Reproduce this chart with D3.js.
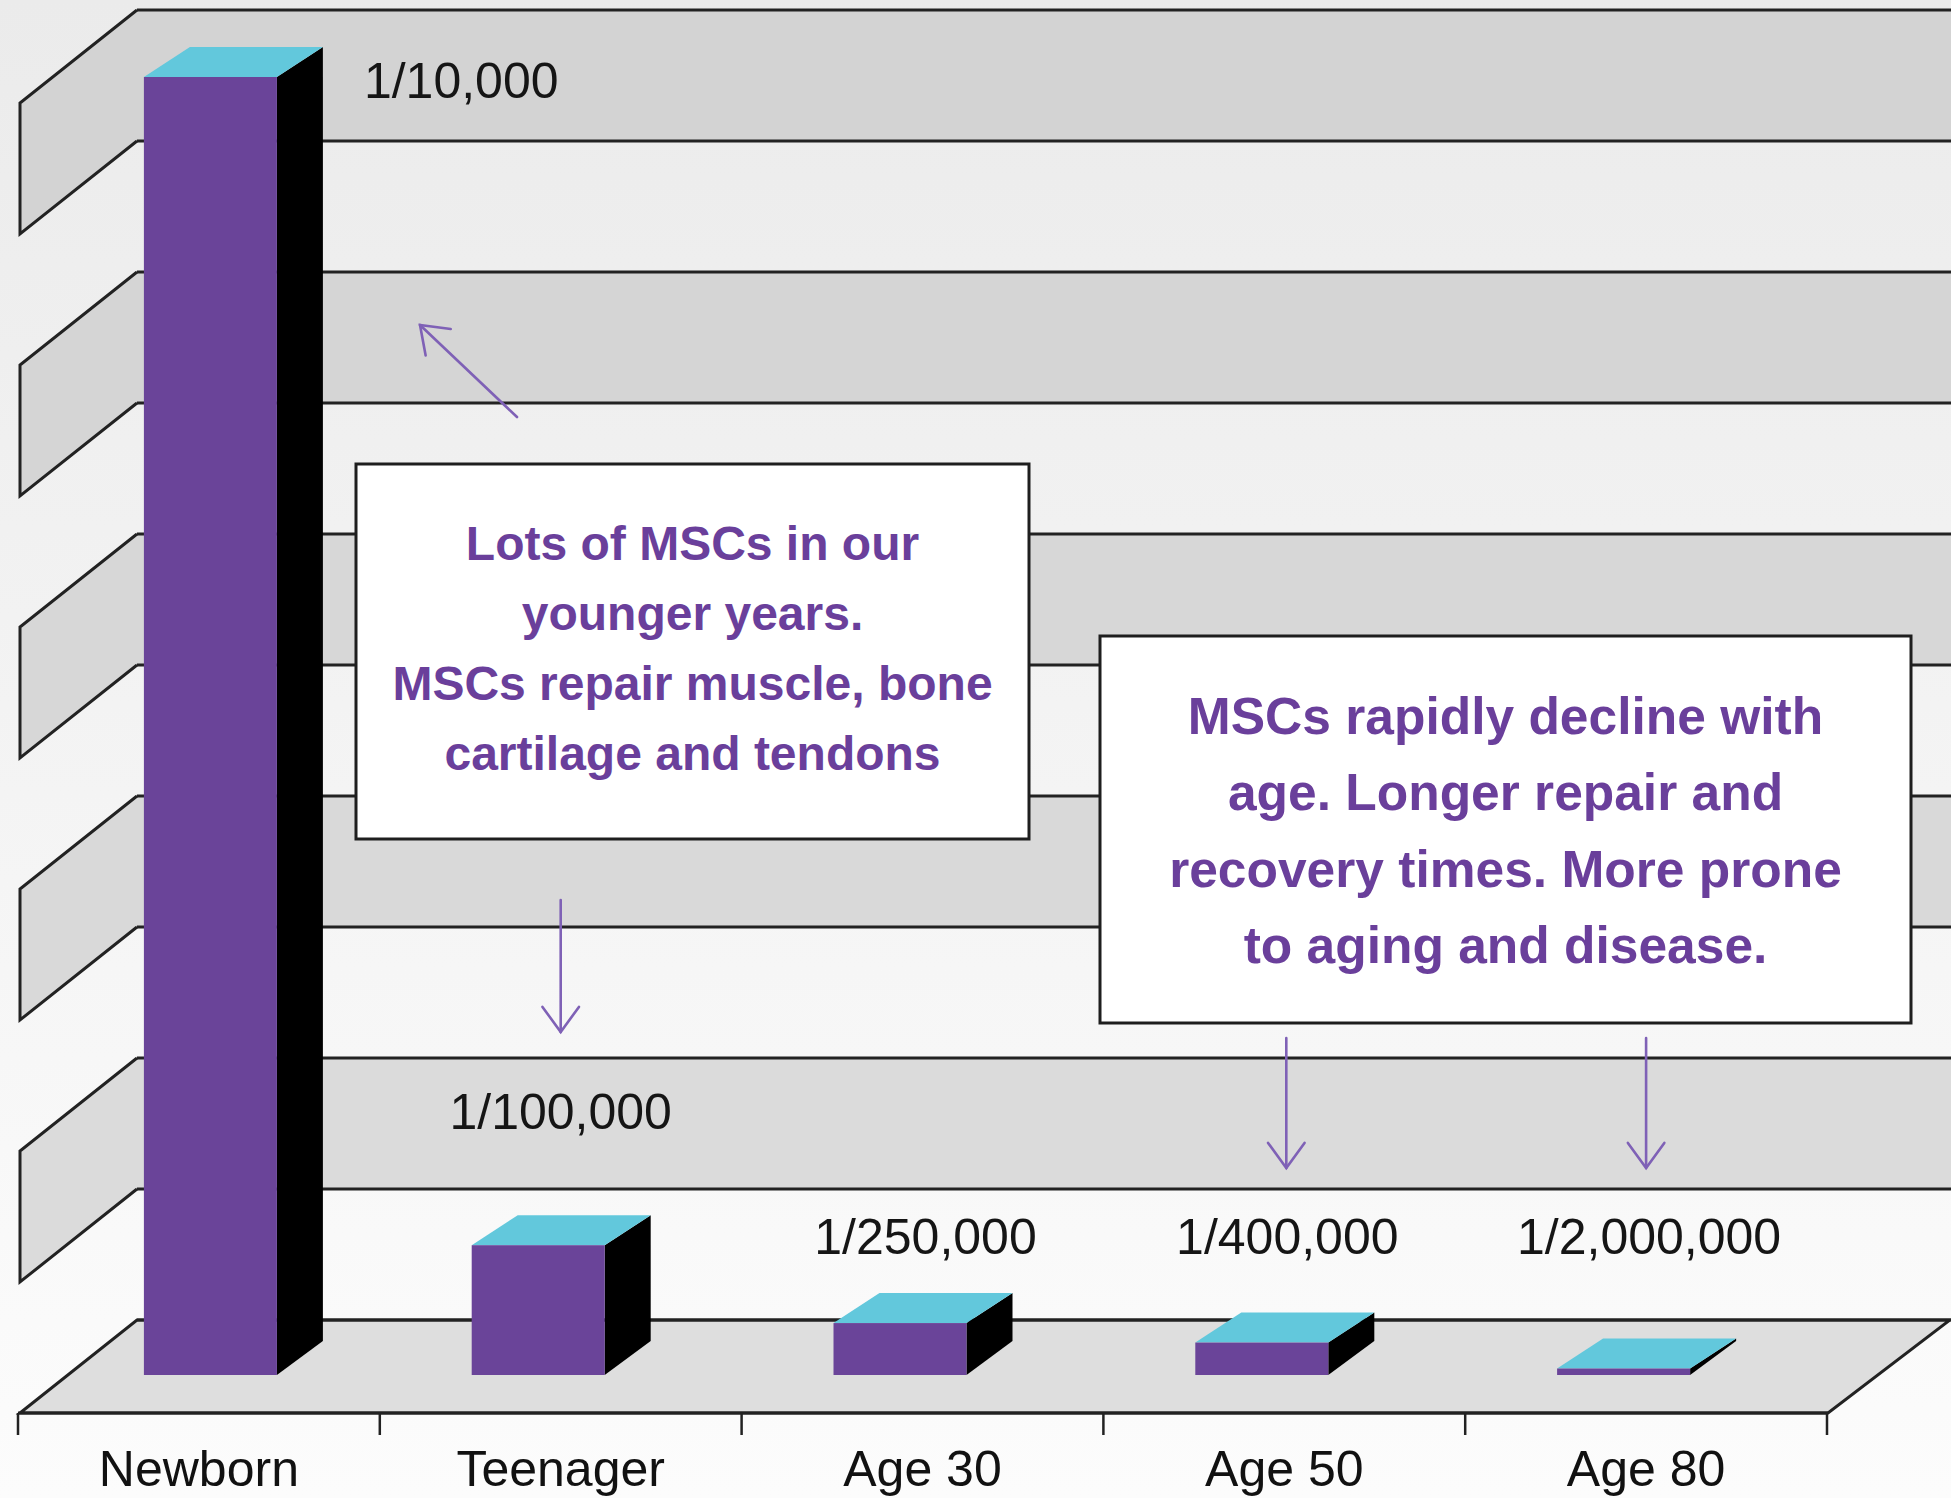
<!DOCTYPE html>
<html>
<head>
<meta charset="utf-8">
<script src="https://cdn.jsdelivr.net/npm/d3@7"></script>
<style>
  html, body { margin: 0; padding: 0; background: #f3f3f3; }
  svg { display: block; }
  text { font-family: "Liberation Sans", Arial, Helvetica, sans-serif; }
</style>
</head>
<body>
<script>
// ---------------- data ----------------
const categories = ["Newborn", "Teenager", "Age 30", "Age 50", "Age 80"];
const frequencies = [1 / 10000, 1 / 100000, 1 / 250000, 1 / 400000, 1 / 2000000];
const valueLabels = ["1/10,000", "1/100,000", "1/250,000", "1/400,000", "1/2,000,000"];
const gridMax = 1 / 10000;
const gridCount = 10;
const note1Lines = ["Lots of MSCs in our", "younger years.", "MSCs repair muscle, bone", "cartilage and tendons"];
const note2Lines = ["MSCs rapidly decline with", "age. Longer repair and", "recovery times. More prone", "to aging and disease."];

// ---------------- layout ----------------
const W = 1951, H = 1498;
const floorFrontY = 1413, floorBackY = 1320;
const wallFrontX = 20, wallBackX = 137;
const depthDY = floorBackY - floorFrontY; // -93
const barBaseY = 1375, barW = 133, barDX = 46, barDY = -30;
const lineCol = "#222";
const lw = 3;

const svg = d3.select("body").append("svg").attr("width", W).attr("height", H);
const defs = svg.append("defs");
const bg = defs.append("linearGradient").attr("id", "bg").attr("x1", 0).attr("y1", 0).attr("x2", 0).attr("y2", 1);
bg.append("stop").attr("offset", "0%").attr("stop-color", "#ebebeb");
bg.append("stop").attr("offset", "100%").attr("stop-color", "#fcfcfc");
svg.append("rect").attr("width", W).attr("height", H).attr("fill", "url(#bg)");

// scales
const wallY = d3.scaleLinear().domain([0, gridMax]).range([floorBackY, 10]);
const barH = d3.scaleLinear().domain([0, gridMax]).range([0, 1298]);
const x = d3.scaleBand().domain(categories).range([18, 1827]).padding(0);
const bandColor = d3.scaleLinear().domain([0, gridMax]).range(["#dcdcdc", "#d3d3d3"]);

// ---------------- back wall & side wall bands ----------------
const gridVals = wallY.ticks(gridCount);
const grayBands = gridVals.slice(0, -1).map((v, i) => [v, gridVals[i + 1]]).filter((d, i) => i % 2 === 1);

const wall = svg.append("g");
grayBands.forEach(([lo, hi]) => {
  const t = wallY(hi), b = wallY(lo);
  const fill = bandColor((lo + hi) / 2);
  wall.append("rect").attr("x", wallBackX).attr("y", t).attr("width", W - wallBackX).attr("height", b - t).attr("fill", fill);
  wall.append("line").attr("x1", wallBackX).attr("x2", W).attr("y1", t).attr("y2", t).attr("stroke", lineCol).attr("stroke-width", lw);
  wall.append("line").attr("x1", wallBackX).attr("x2", W).attr("y1", b).attr("y2", b).attr("stroke", lineCol).attr("stroke-width", lw);
  const pts = [[wallBackX, t], [wallFrontX, t - depthDY], [wallFrontX, b - depthDY], [wallBackX, b]];
  wall.append("polygon").attr("points", pts.map(p => p.join(",")).join(" ")).attr("fill", fill);
  wall.append("path").attr("d", d3.line()(pts)).attr("fill", "none").attr("stroke", lineCol).attr("stroke-width", lw).attr("stroke-linejoin", "miter");
});

// ---------------- floor ----------------
const floorRight = x.range()[1] + 1;
const floorPts = [[wallFrontX, floorFrontY], [wallBackX, floorBackY], [W - 1, floorBackY], [floorRight, floorFrontY]];
svg.append("polygon").attr("points", floorPts.map(p => p.join(",")).join(" "))
  .attr("fill", "#dedede").attr("stroke", lineCol).attr("stroke-width", lw).attr("stroke-linejoin", "miter");
svg.append("line").attr("x1", wallBackX).attr("x2", W).attr("y1", floorBackY).attr("y2", floorBackY).attr("stroke", lineCol).attr("stroke-width", lw);

// category axis: ticks at band edges, labels at band centres
const axisG = svg.append("g");
const edges = categories.map(c => x(c)).concat([x.range()[1]]);
axisG.append("line").attr("x1", x.range()[0]).attr("x2", floorRight).attr("y1", floorFrontY).attr("y2", floorFrontY)
  .attr("stroke", lineCol).attr("stroke-width", lw);
axisG.selectAll("line.tick").data(edges).join("line").attr("class", "tick")
  .attr("x1", d => d).attr("x2", d => d).attr("y1", floorFrontY).attr("y2", floorFrontY + 22)
  .attr("stroke", lineCol).attr("stroke-width", 2.5);
axisG.selectAll("text").data(categories).join("text")
  .attr("x", d => x(d) + x.bandwidth() / 2).attr("y", 1486)
  .attr("text-anchor", "middle").attr("font-size", 50).attr("fill", "#111")
  .text(d => d);

// ---------------- bars ----------------
const bars = categories.map((c, i) => {
  const cx = x(c) + x.bandwidth() / 2;
  const x0 = cx - 89 + (i === 0 ? 34 : 0);
  const h = barH(frequencies[i]);
  return { c, i, x0, h, top: barBaseY - h };
});
const barG = svg.append("g");
bars.forEach(b => {
  const g = barG.append("g");
  const x0 = b.x0, x1 = b.x0 + barW, yT = b.top, yB = barBaseY;
  g.append("polygon").attr("fill", "#000").attr("points",
    [[x1, yT], [x1 + barDX, yT + barDY], [x1 + barDX, yB + barDY - 4], [x1, yB]].map(p => p.join(",")).join(" "));
  g.append("polygon").attr("fill", "#62c8dc").attr("points",
    [[x0, yT], [x0 + barDX, yT + barDY], [x1 + barDX, yT + barDY], [x1, yT]].map(p => p.join(",")).join(" "));
  g.append("rect").attr("x", x0).attr("y", yT).attr("width", barW).attr("height", b.h).attr("fill", "#6a4499");
});

// ---------------- value labels ----------------
const valG = svg.append("g");
bars.forEach(b => {
  let tx, ty, anchor;
  const cx = x(b.c) + x.bandwidth() / 2;
  if (b.i === 0) { tx = b.x0 + barW + barDX + 41; ty = b.top + 21; anchor = "start"; }
  else if (b.i === 1) { tx = cx; ty = b.top - 116; anchor = "middle"; }
  else { tx = cx + 3; ty = 1254; anchor = "middle"; }
  valG.append("text").attr("x", tx).attr("y", ty).attr("text-anchor", anchor)
    .attr("font-size", 50).attr("fill", "#151515").text(valueLabels[b.i]);
});

// ---------------- annotation boxes ----------------
function noteBox(x0, y0, w, h, lines, fs, firstBase, step) {
  const g = svg.append("g");
  g.append("rect").attr("x", x0).attr("y", y0).attr("width", w).attr("height", h)
    .attr("fill", "#fff").attr("stroke", "#1e1e1e").attr("stroke-width", 3);
  g.selectAll("text").data(lines).join("text")
    .attr("x", x0 + w / 2).attr("y", (d, i) => firstBase + i * step)
    .attr("text-anchor", "middle").attr("font-size", fs).attr("font-weight", "bold")
    .attr("fill", "#6a3f9b").text(d => d);
}
noteBox(356, 464, 673, 375, note1Lines, 48, 560, 70);
noteBox(1100, 636, 811, 387, note2Lines, 51.5, 734, 76.3);

// ---------------- arrows ----------------
const arrowCol = "#7f61b6";
function arrow(x1, y1, x2, y2) {
  const g = svg.append("g").attr("stroke", arrowCol).attr("stroke-width", 2.6).attr("fill", "none").attr("stroke-linecap", "round");
  g.append("line").attr("x1", x1).attr("y1", y1).attr("x2", x2).attr("y2", y2);
  const ang = Math.atan2(y1 - y2, x1 - x2);
  const L = 31, a = 36 * Math.PI / 180;
  const p1 = [x2 + L * Math.cos(ang + a), y2 + L * Math.sin(ang + a)];
  const p2 = [x2 + L * Math.cos(ang - a), y2 + L * Math.sin(ang - a)];
  g.append("path").attr("d", d3.line()([p1, [x2, y2], p2])).attr("stroke-linejoin", "miter");
}
arrow(517, 417, 420, 325);
const center = c => x(c) + x.bandwidth() / 2;
arrow(center("Teenager"), 900, center("Teenager"), 1032);
arrow(center("Age 50") + 2, 1038, center("Age 50") + 2, 1168);
arrow(center("Age 80"), 1038, center("Age 80"), 1168);
</script>
</body>
</html>
